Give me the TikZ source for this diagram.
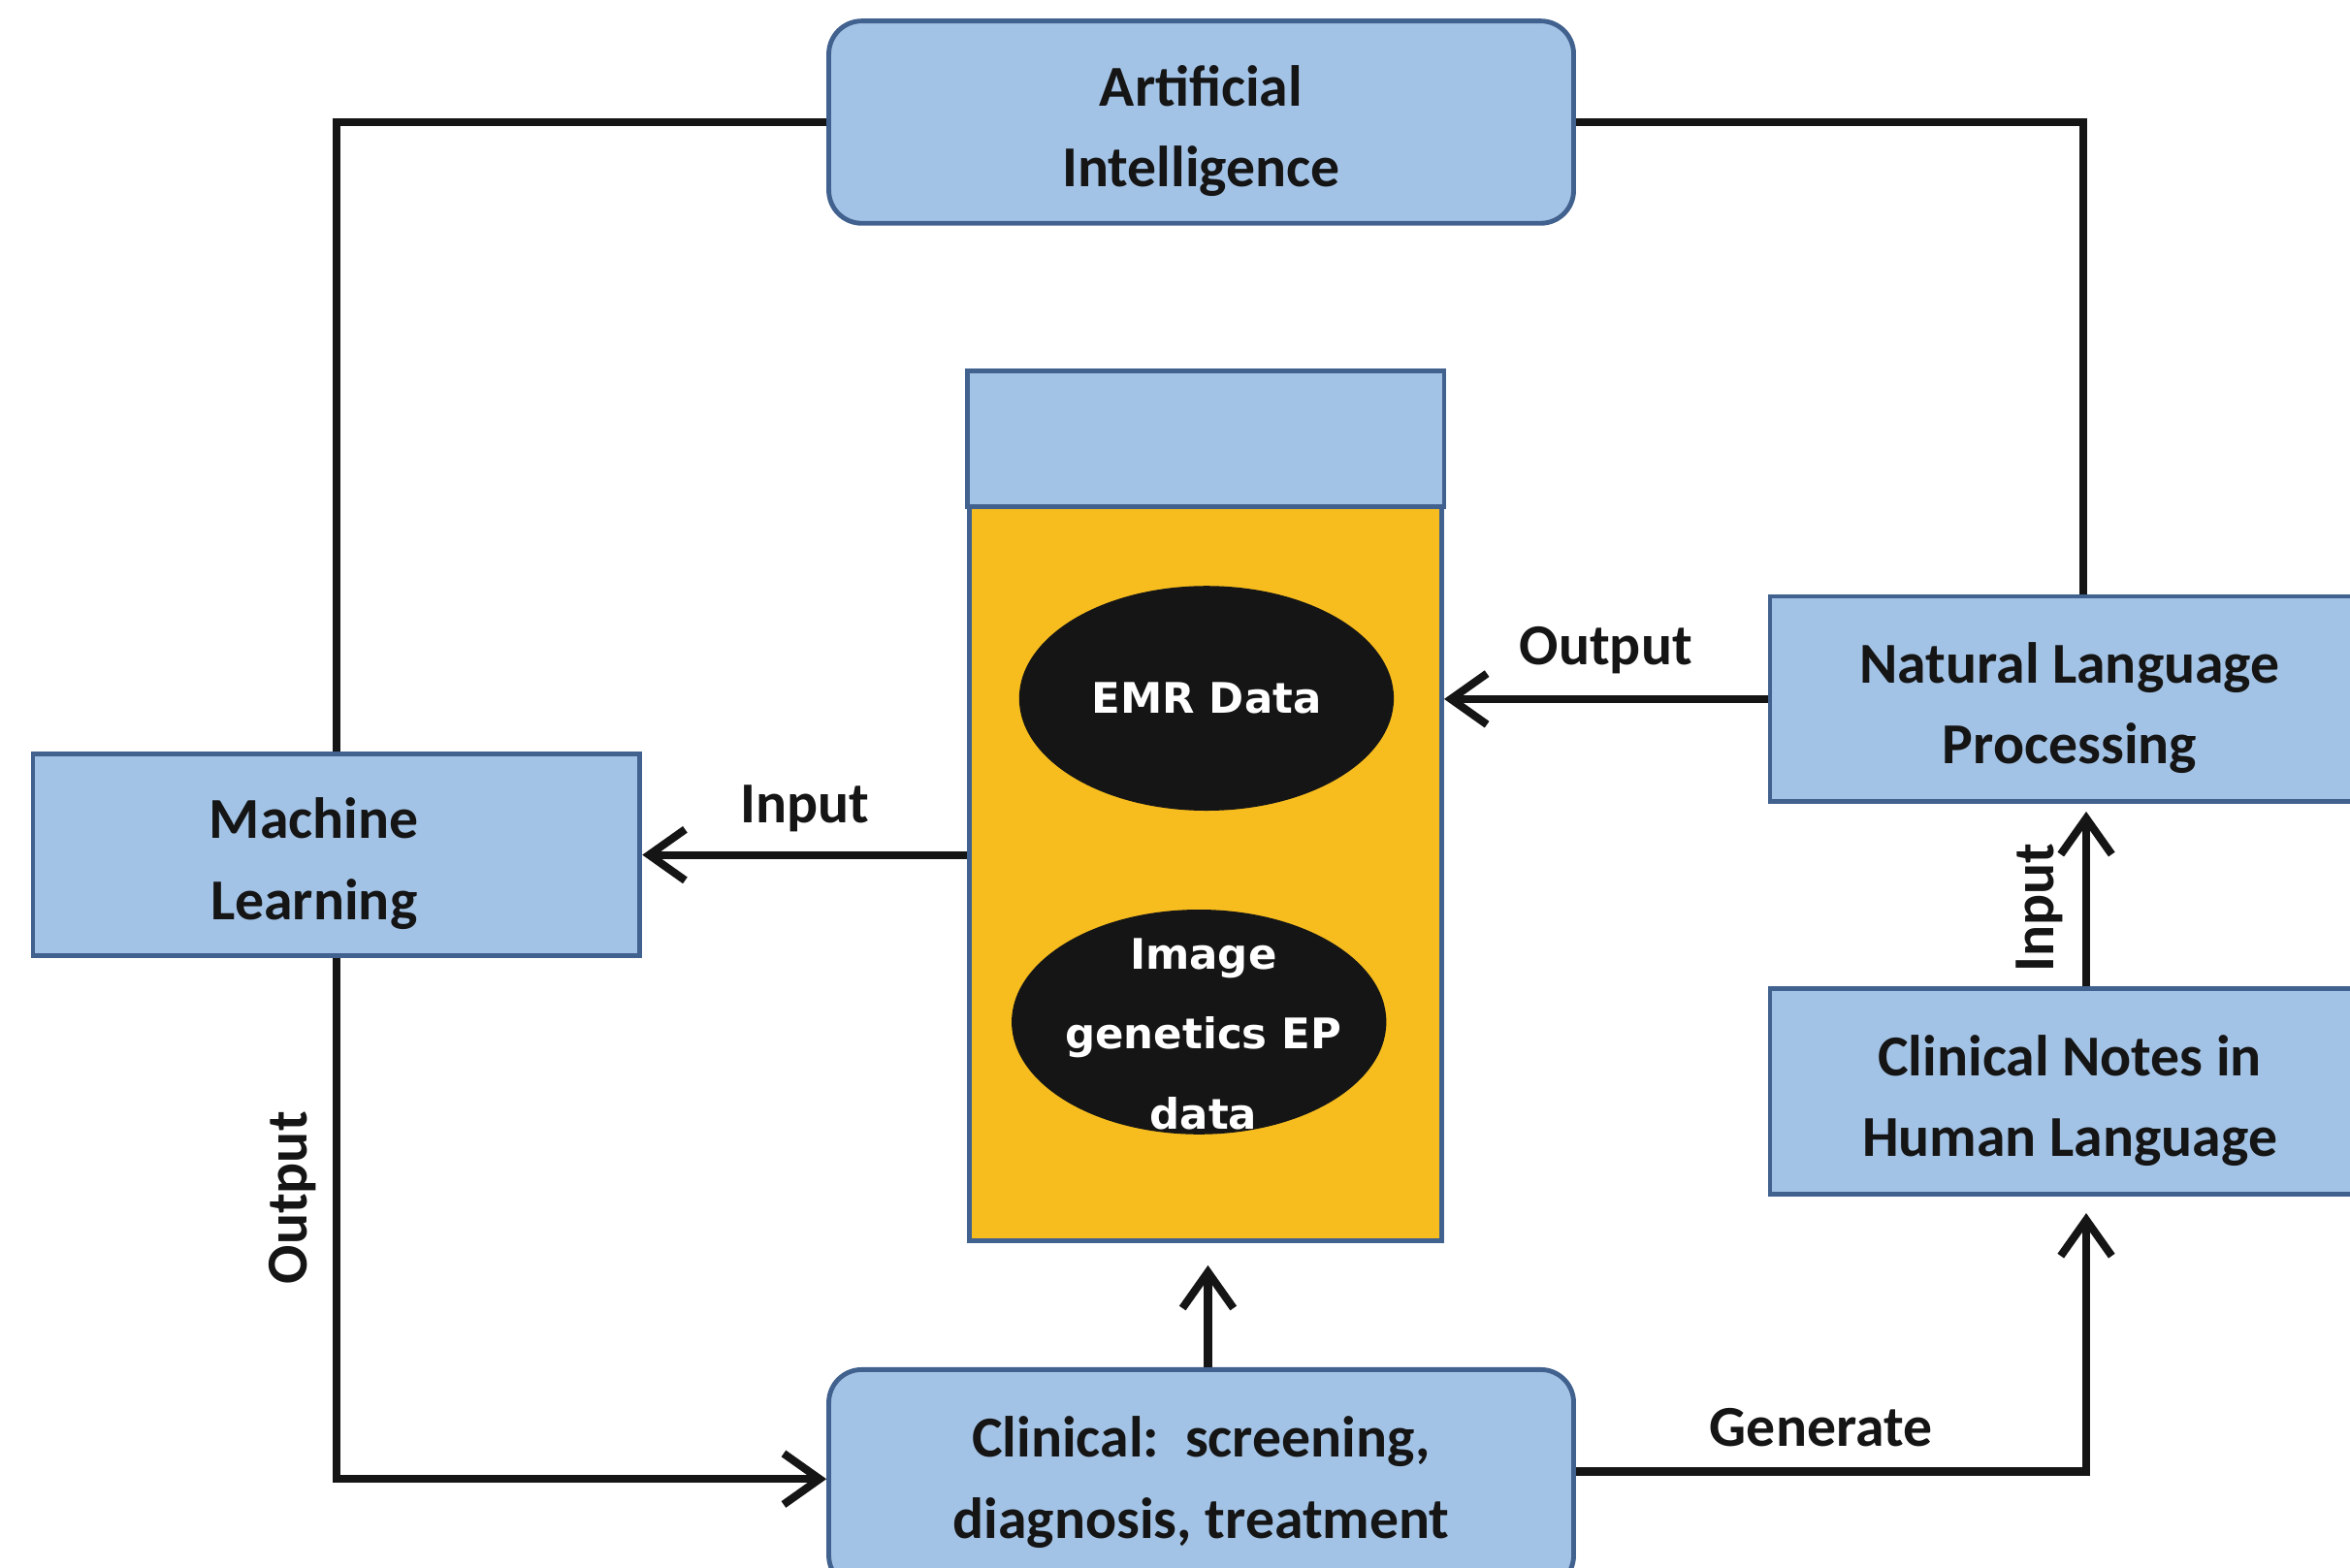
\documentclass[tikz,border=0pt]{standalone}
\usepackage{fontspec}
\setmainfont{Carlito}
\newfontfamily\ellfont{DejaVu Sans}
\usetikzlibrary{arrows.meta,shapes.geometric,calc}

\definecolor{boxfill}{HTML}{A3C3E6}
\definecolor{boxline}{HTML}{41618E}
\definecolor{storeyellow}{HTML}{F7BD1F}
\definecolor{inkblack}{HTML}{151515}

\tikzset{
  blockbox/.style={draw=boxline, line width=0.9pt, fill=boxfill, inner sep=0pt},
  roundbox/.style={blockbox, rounded corners=2.2mm},
  boxtext/.style={font=\bfseries\fontsize{11}{15.4}\selectfont, text=inkblack,
    align=center, inner sep=0pt, yshift=-0.6mm},
  datablob/.style={ellipse, fill=inkblack, draw=none,
    minimum width=25mm, minimum height=15mm, inner sep=0pt},
  blobtext/.style={text=white, font=\ellfont\bfseries\fontsize{8}{15.2}\selectfont,
    align=center, inner sep=0pt},
  link/.style={draw=inkblack, line width=1.5pt},
  arr/.style={link, -{Straight Barb[length=2.4mm,width=3.4mm,line width=1.5pt]}},
  tag/.style={font=\bfseries\fontsize{11}{13}\selectfont, text=inkblack, inner sep=0pt}
}

\begin{document}
\begin{tikzpicture}[x=0.1mm, y=-0.1mm]
  \useasboundingbox (0,0) rectangle (1568,1046);
  \clip (0,0) rectangle (1568,1046);

  % main blocks
  \node[roundbox, minimum width=49.7mm, minimum height=13.5mm,
        label={[boxtext]center:{Artificial\\Intelligence}}] (ai) at (801.5,81.5) {};
  \node[blockbox, minimum width=40.5mm, minimum height=13.5mm,
        label={[boxtext, xshift=-1.5mm]center:{Machine\\Learning}}] (ml) at (224.5,570.5) {};
  \node[blockbox, minimum width=40mm, minimum height=13.7mm,
        label={[boxtext]center:{Natural Language\\Processing}}] (nlp) at (1381,466.5) {};
  \node[blockbox, minimum width=40mm, minimum height=13.7mm,
        label={[boxtext]center:{Clinical Notes in\\Human Language}}] (notes) at (1381,728.5) {};
  \node[roundbox, minimum width=49.7mm, minimum height=14.6mm,
        label={[boxtext, yshift=0.4mm]center:{Clinical:\ \ screening,\\diagnosis, treatment}}] (clin) at (801.5,987) {};

  % data store with header band
  \node[draw=boxline, line width=0.9pt, fill=storeyellow, minimum width=31.5mm, minimum height=57.9mm, inner sep=0pt] (store) at (804.5,538.5) {};
  \path[draw=boxline, line width=0.9pt, fill=boxfill] (store.north west) rectangle (store.north east |- 0,338);

  \node[datablob] (emr) at (805,466) {};
  \node[blobtext] (emrtext) at (emr) {EMR Data};
  \node[datablob] (img) at (800,682) {};
  \node[blobtext] (imgtext) at (803,690) {Image\\genetics EP\\data};

  % connectors
  \draw[link] (ai.west) -| (ml.north);
  \draw[link] (ai.east) -| ($(nlp.north)+(9,0)$);
  \draw[arr] (store.west |- ml.east) -- node[tag, above=1.3mm] (tin) {Input} (ml.east);
  \draw[arr] (nlp.west) -- node[tag, above=1.4mm] (tout) {Output} (nlp.west -| store.east);
  \draw[arr] (ml.south) |- node[tag, pos=0.23, rotate=90, above=1.1mm] (mlout) {Output} (clin.west);
  \draw[arr] ($(clin.north)+(4.5,0)$) -- ++(0,-68);
  \draw[arr] (clin.east |- 0,982) -| node[tag, pos=0.24, above=1.4mm] (gen) {Generate} ($(notes.south)+(11,11)$);
  \draw[arr] ($(notes.north)+(11,0)$) -- node[tag, rotate=90, above=1.3mm, pos=0.45] (nin) {Input} ($(nlp.south)+(11,5)$);
\end{tikzpicture}
\end{document}
